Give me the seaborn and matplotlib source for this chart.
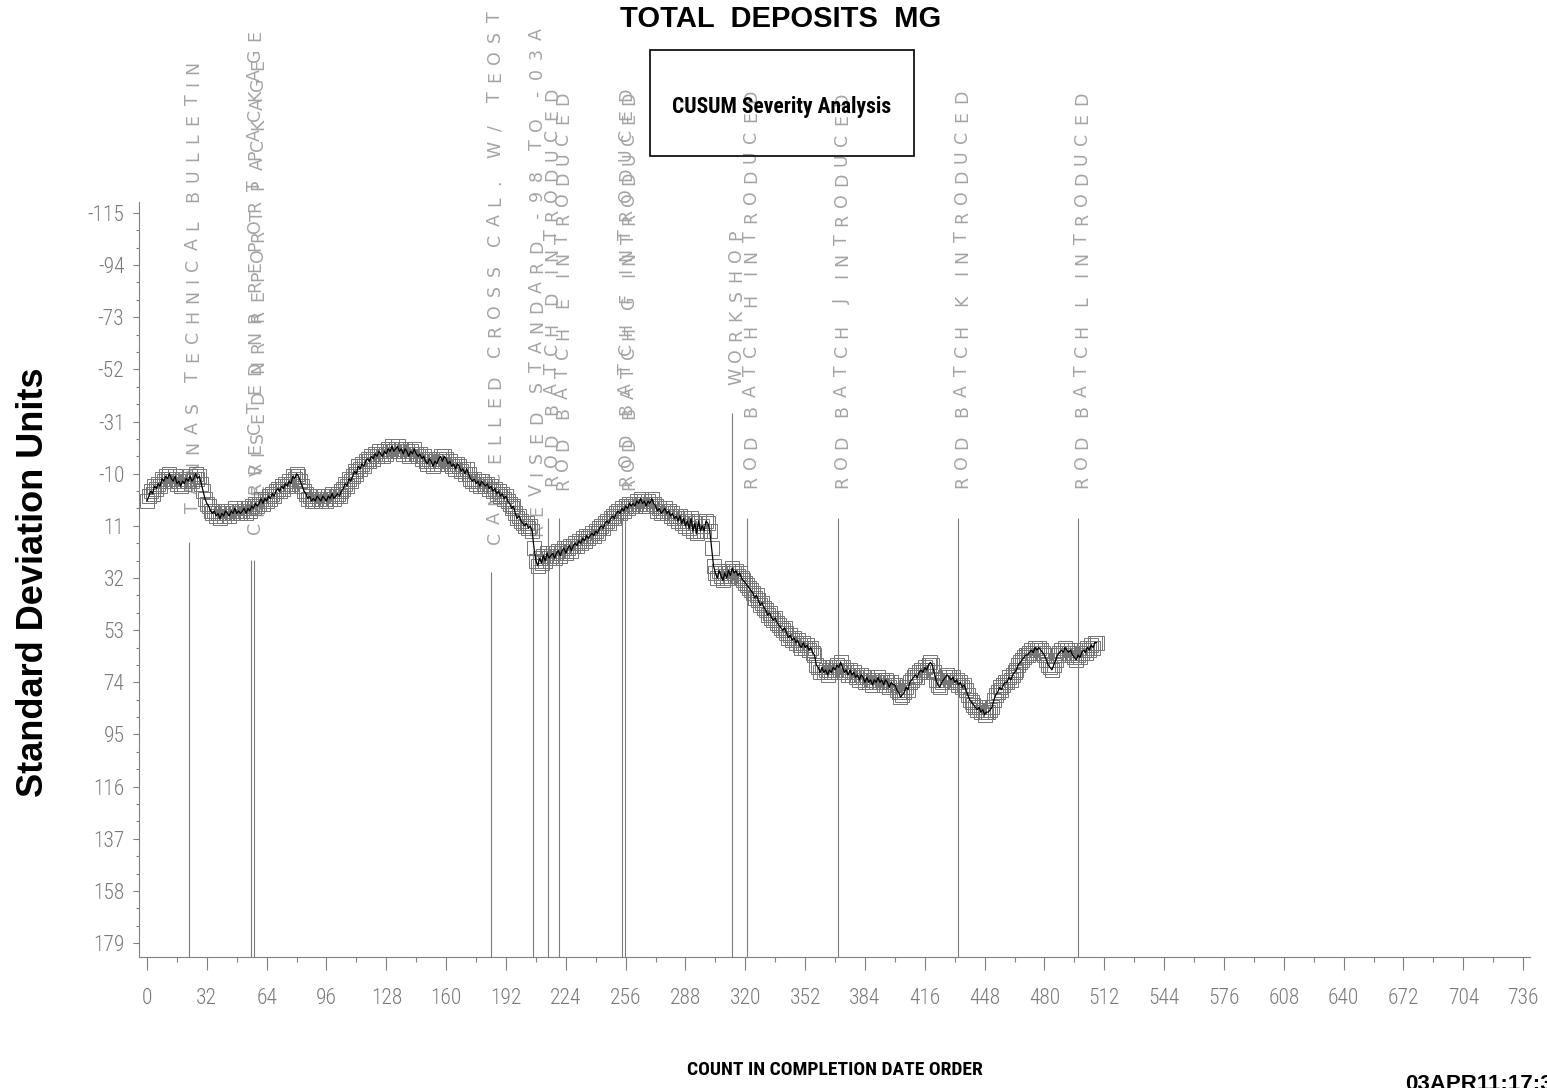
import numpy as np
import pandas as pd
import matplotlib
matplotlib.use("Agg")
import matplotlib.pyplot as plt
import matplotlib.transforms as mtransforms
from matplotlib.patches import Rectangle
from matplotlib.ticker import FixedLocator
import seaborn as sns

# ---------------------------------------------------------------------------
# CUSUM of total deposits (standard deviation units), one value per test,
# in completion-date order (count 0 .. 508)
# ---------------------------------------------------------------------------
cusum = [
    1, -1, -3, -2, -5, -4, -6, -5, -8, -7,
    -9, -8, -10, -8, -7, -9, -6, -7, -5, -7,
    -6, -8, -7, -9, -7, -8, -10, -8, -9, -6,
    -3, 0, 2, 3, 5, 6, 5, 7, 6, 8,
    6, 7, 5, 6, 7, 5, 6, 4, 6, 5,
    6, 5, 4, 6, 4, 5, 3, 4, 2, 3,
    2, 0, 2, 0, 1, -1, 0, -2, -1, -3,
    -4, -3, -5, -4, -6, -5, -7, -6, -9, -8,
    -10, -9, -7, -5, -3, -2, 0, -1, 1, 0,
    1, -1, 0, 1, -1, 0, 1, -1, 0, -2,
    0, -1, -2, -1, -3, -4, -6, -5, -8, -7,
    -9, -11, -10, -13, -12, -14, -13, -15, -16, -15,
    -17, -16, -18, -17, -19, -18, -17, -19, -18, -20,
    -19, -21, -19, -20, -21, -19, -20, -18, -20, -19,
    -17, -19, -18, -20, -18, -17, -18, -16, -17, -15,
    -14, -16, -15, -13, -15, -14, -16, -17, -15, -17,
    -16, -14, -15, -13, -14, -12, -14, -13, -11, -12,
    -10, -12, -10, -8, -7, -8, -6, -7, -5, -7,
    -6, -5, -6, -4, -5, -3, -4, -2, -3, -1,
    -2, 0, -1, 1, 2, 4, 3, 6, 8, 7,
    9, 10, 11, 10, 12, 11, 13, 20, 25, 27,
    24, 26, 23, 25, 22, 24, 23, 22, 24, 22,
    21, 23, 21, 20, 22, 20, 19, 21, 19, 18,
    19, 17, 18, 16, 17, 15, 16, 15, 14, 15,
    13, 14, 12, 11, 12, 10, 9, 10, 8, 7,
    8, 6, 5, 6, 4, 5, 3, 4, 2, 3,
    2, 3, 1, 2, 0, 2, 1, 3, 1, 2,
    0, 2, 3, 5, 4, 6, 5, 4, 6, 5,
    7, 6, 8, 7, 9, 7, 10, 8, 11, 9,
    12, 8, 13, 10, 14, 9, 13, 11, 13, 9,
    10, 13, 20, 27, 30, 32, 29, 31, 33, 30,
    32, 29, 31, 28, 30, 29, 31, 30, 32, 33,
    34, 35, 36, 37, 38, 40, 39, 41, 43, 42,
    44, 45, 47, 46, 48, 49, 48, 50, 51, 52,
    53, 52, 54, 56, 55, 57, 56, 58, 57, 59,
    60, 58, 60, 59, 61, 60, 62, 63, 67, 68,
    70, 68, 70, 69, 71, 69, 70, 68, 69, 67,
    68, 66, 68, 70, 69, 71, 69, 71, 70, 72,
    71, 73, 71, 72, 74, 72, 74, 73, 75, 73,
    74, 72, 74, 73, 75, 73, 74, 76, 74, 75,
    75, 77, 78, 80, 79, 78, 76, 77, 74, 73,
    72, 71, 72, 70, 69, 70, 68, 69, 67, 66,
    67, 70, 73, 75, 76, 74, 73, 72, 71, 72,
    73, 72, 74, 73, 75, 74, 76, 75, 77, 79,
    81, 82, 83, 84, 85, 84, 86, 85, 87, 86,
    86, 85, 84, 81, 79, 78, 76, 77, 75, 74,
    74, 72, 73, 71, 70, 69, 67, 66, 65, 64,
    63, 63, 62, 61, 62, 60, 61, 60, 61, 62,
    63, 65, 67, 68, 69, 67, 65, 63, 62, 61,
    62, 60, 61, 62, 61, 63, 64, 65, 63, 64,
    62, 61, 62, 60, 61, 59, 60, 58, 58,
]
count = list(range(len(cusum)))

# Events marked on the chart (count at which they occurred)
event_counts = [22.5, 55.6, 57.2, 184.0, 206.5, 214.5, 220.4, 254.0, 255.7,
                313.1, 320.8, 369.5, 433.7, 497.9]
event_labels = [
    "TANNAS TECHNICAL BULLETIN",
    "CORRECTED NR REPORT PACKAGE",
    "REVISED NR REPORT PACKAGE",
    "CANCELLED CROSS CAL. W/ TEOST",
    "REVISED STANDARD -98 TO -03A",
    "ROD BATCH D INTRODUCED",
    "ROD BATCH E INTRODUCED",
    "ROD BATCH F INTRODUCED",
    "ROD BATCH G INTRODUCED",
    "WORKSHOP",
    "ROD BATCH H INTRODUCED",
    "ROD BATCH J INTRODUCED",
    "ROD BATCH K INTRODUCED",
    "ROD BATCH L INTRODUCED",
]

x_ticks = [0, 32, 64, 96, 128, 160, 192, 224, 256, 288, 320, 352, 384, 416,
           448, 480, 512, 544, 576, 608, 640, 672, 704, 736]
y_ticks = [-115, -94, -73, -52, -31, -10, 11, 32, 53, 74, 95, 116, 137, 158, 179]

title_text = "TOTAL  DEPOSITS  MG"
box_text = "CUSUM Severity Analysis"
x_label = "COUNT IN COMPLETION DATE ORDER"
y_label = "Standard Deviation Units"
stamp_text = "03APR11:17:33"

# ---------------------------------------------------------------------------
# Layout (axis units): where each event line stops and where its text begins
# ---------------------------------------------------------------------------
line_tops = [17.5, 24.7, 24.7, 29.6, 26.8, 7.8, 7.8, 7.8, 7.8,
             -34.5, 7.8, 7.8, 7.8, 7.8]
label_bases = [7.8, 15.9, 8.6, 19.9, 16.7, -3.4, -1.8, -3.4, -1.8,
               -44.5, -2.6, -2.6, -2.6, -2.6]

X_LIM = (-4.28, 739.7)
Y_LIM = (184.6, -119.4)          # inverted: negative CUSUM at the top

CONDENSED = ["Roboto Condensed", "Noto Sans Condensed", "Liberation Sans Narrow",
             "DejaVu Sans"]
SANS = ["Liberation Sans", "DejaVu Sans"]
GRAY_AXIS = "#808080"
GRAY_TEXT = "#7a7a7a"
GRAY_LABEL = "#a4a4a4"

sns.set_theme(style="white")
plt.rcParams["font.family"] = SANS

W, H = 1547, 1088
fig = plt.figure(figsize=(W / 100, H / 100), dpi=100, facecolor="white")
ax = fig.add_axes([139 / W, 1 - 957 / H, (1530 - 139) / W, (957 - 202) / H])
ax.set_facecolor("white")

df = pd.DataFrame({"count": count, "cusum": cusum})

# Event reference lines rising from the x axis
ax.vlines(event_counts, line_tops, Y_LIM[0], colors="#7c7c7c",
          linewidth=0.8, zorder=1)

# Open square markers for each test, with the CUSUM trace on top
sns.lineplot(data=df, x="count", y="cusum", ax=ax, linestyle="none",
             marker="s", markersize=9.5, markerfacecolor="none",
             markeredgecolor="#747474", markeredgewidth=0.7,
             errorbar=None, zorder=2)
sns.lineplot(data=df, x="count", y="cusum", ax=ax, color="black",
             linewidth=0.9, errorbar=None, zorder=3)

ax.set_xlim(*X_LIM)
ax.set_ylim(*Y_LIM)

# Axes, ticks
sns.despine(ax=ax)
for side in ("left", "bottom"):
    ax.spines[side].set_color(GRAY_AXIS)
    ax.spines[side].set_linewidth(0.8)

ax.xaxis.set_major_locator(FixedLocator(x_ticks))
ax.xaxis.set_minor_locator(FixedLocator([t + 16 for t in x_ticks[:-1]]))
ax.yaxis.set_major_locator(FixedLocator(y_ticks))
ax.yaxis.set_minor_locator(FixedLocator(
    [t + d for t in y_ticks[:-1] for d in (7, 14)]))
ax.set_xticklabels([str(t) for t in x_ticks])
ax.set_yticklabels([str(t) for t in y_ticks])

ax.tick_params(axis="x", which="major", bottom=True, direction="out",
               length=9.5, width=0.8, color=GRAY_AXIS, pad=13,
               labelsize=15.5, labelcolor=GRAY_TEXT)
ax.tick_params(axis="x", which="minor", bottom=True, direction="out",
               length=3.6, width=0.8, color=GRAY_AXIS)
ax.tick_params(axis="y", which="major", left=True, direction="out",
               length=4.5, width=0.8, color=GRAY_AXIS, pad=6,
               labelsize=15.5, labelcolor=GRAY_TEXT)
ax.tick_params(axis="y", which="minor", left=True, direction="out",
               length=2.2, width=0.8, color=GRAY_AXIS)
for lab in ax.get_xticklabels() + ax.get_yticklabels():
    lab.set_family(CONDENSED)
    lab.set_fontstretch("condensed")
    lab.set_fontweight("light")

ax.set_xlabel(x_label, family=CONDENSED, fontweight="bold", fontsize=14,
              fontstretch="condensed", color="black")
ax.xaxis.set_label_coords(0.5, -0.1375)
ax.set_ylabel(y_label, family=SANS, fontweight="bold", fontsize=26,
              color="black")
ax.yaxis.set_label_coords(-0.0635, 0.4967)

# Event labels: widely tracked vertical lettering set glyph by glyph
ADV = {" ": 0.55, "I": 0.62, "J": 0.85, "L": 0.9, "M": 1.1, "W": 1.15}
PITCH = 20.0
for x, base, s in zip(event_counts, label_bases, event_labels):
    pos = 0.0
    for ch in s:
        w = ADV.get(ch, 1.0) * PITCH
        if ch != " ":
            tr = mtransforms.offset_copy(ax.transData, fig=fig, x=4,
                                         y=pos + w / 2, units="dots")
            ax.text(x, base, ch, transform=tr, rotation=90, ha="center",
                    va="center", fontsize=12.5, color=GRAY_LABEL,
                    family=["DejaVu Sans"], zorder=1, clip_on=False)
        pos += w

# Title, caption box and time stamp
fig.text(781 / W, 1 - 5 / H, title_text, ha="center", va="top",
         fontsize=21, fontweight="bold", color="black", family=SANS)
fig.add_artist(Rectangle((650 / W, 1 - 156 / H), 264 / W, 106 / H,
                         transform=fig.transFigure, fill=False,
                         edgecolor="black", linewidth=1.2))
fig.text(782 / W, 1 - 107 / H, box_text, ha="center", va="center",
         fontsize=15.5, fontweight="bold", color="black", family=CONDENSED,
         fontstretch="condensed")
fig.text(1405 / W, 1 - 1074 / H, stamp_text, ha="left", va="top",
         fontsize=16, fontweight="bold", color="black", family=SANS)

fig.savefig("out.png", dpi=100, facecolor="white")
